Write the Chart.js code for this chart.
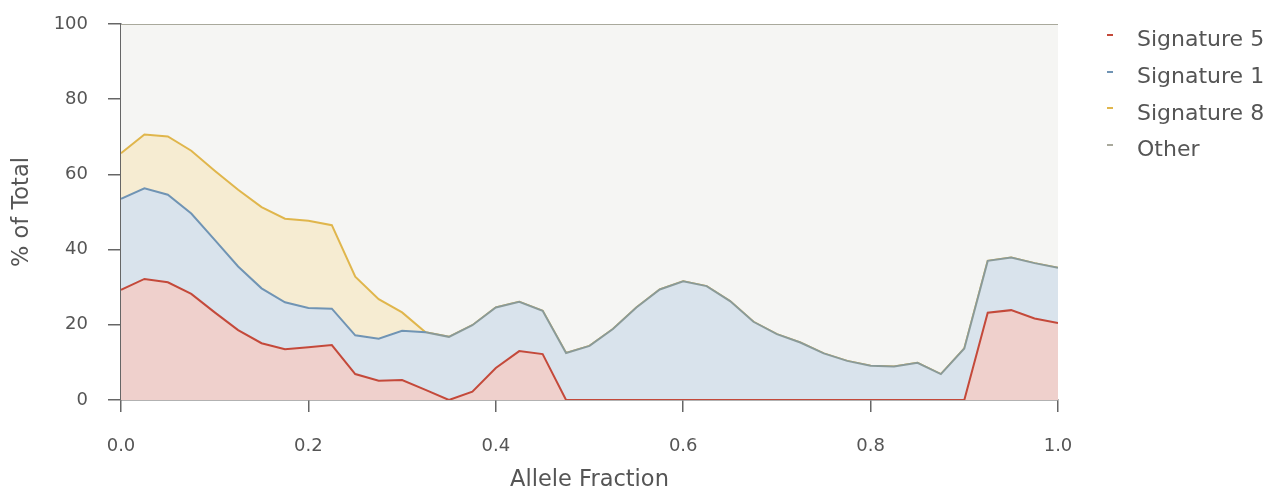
<!DOCTYPE html>
<html>
<head>
<meta charset="utf-8">
<script src="https://cdn.jsdelivr.net/npm/chart.js@4"></script>
<style>
  body { margin: 0; background: #fff; }
  #wrap { position: relative; width: 1270px; height: 491px; }
  .leg { position: absolute; left: 1137px; font: 22px "DejaVu Sans", sans-serif; color: #555; line-height: 26px; white-space: nowrap; }
  .mark { position: absolute; left: 1107px; width: 6px; height: 2px; }
</style>
</head>
<body>
<div id="wrap">
  <canvas id="areaChart" width="1270" height="491"></canvas>
  <div id="legend"></div>
</div>
<script>
const alleleFraction = [0, 0.025, 0.05, 0.075, 0.1, 0.125, 0.15, 0.175, 0.2, 0.225,
  0.25, 0.275, 0.3, 0.325, 0.35, 0.375, 0.4, 0.425, 0.45, 0.475,
  0.5, 0.525, 0.55, 0.575, 0.6, 0.625, 0.65, 0.675, 0.7, 0.725,
  0.75, 0.775, 0.8, 0.825, 0.85, 0.875, 0.9, 0.925, 0.95, 0.975, 1];

const sig5 = [29.3, 32.2, 31.3, 28.2, 23.3, 18.6, 15.1, 13.5, 14.0, 14.6,
  6.9, 5.1, 5.3, 2.7, 0, 2.2, 8.5, 13.0, 12.2, 0,
  0, 0, 0, 0, 0, 0, 0, 0, 0, 0,
  0, 0, 0, 0, 0, 0, 0, 23.2, 23.9, 21.7, 20.5];

const sig1 = [24.2, 24.1, 23.3, 21.4, 19.3, 16.9, 14.6, 12.5, 10.5, 9.7,
  10.3, 11.2, 13.1, 15.3, 16.8, 17.7, 16.1, 13.1, 11.5, 12.5,
  14.4, 18.9, 24.6, 29.4, 31.6, 30.3, 26.3, 20.8, 17.5, 15.3,
  12.4, 10.4, 9.1, 8.9, 9.9, 6.9, 13.7, 13.8, 14.0, 14.7, 14.7];

const sig8 = [12.1, 14.3, 15.5, 16.7, 18.4, 20.4, 21.6, 22.2, 23.2, 22.2,
  15.6, 10.5, 4.9, 0, 0, 0, 0, 0, 0, 0,
  0, 0, 0, 0, 0, 0, 0, 0, 0, 0,
  0, 0, 0, 0, 0, 0, 0, 0, 0, 0, 0];

const other = [34.4, 29.4, 29.9, 33.7, 39.0, 44.1, 48.7, 51.8, 52.3, 53.5,
  67.2, 73.2, 76.7, 82.0, 83.2, 80.1, 75.4, 73.9, 76.3, 87.5,
  85.6, 81.1, 75.4, 70.6, 68.4, 69.7, 73.7, 79.2, 82.5, 84.7,
  87.6, 89.6, 90.9, 91.1, 90.1, 93.1, 86.3, 63.0, 62.1, 63.6, 64.8];

const seriesNames = ["Signature 5", "Signature 1", "Signature 8", "Other"];
const lineColors = ["#c4493a", "#7094b4", "#e0b64c", "#a9a99c"];
const fillColors = ["#efd0cc", "#d9e3ec", "#f6ecd2", "#f5f5f3"];
const yTicks = [0, 20, 40, 60, 80, 100];

function points(vals) {
  return vals.map((v, i) => ({ x: alleleFraction[i], y: v }));
}

const seriesValues = [sig5, sig1, sig8, other];

const datasets = seriesValues.map((vals, k) => ({
  label: seriesNames[k],
  data: points(vals),
  borderColor: lineColors[k],
  backgroundColor: fillColors[k],
  borderWidth: 2,
  pointRadius: 0,
  tension: 0,
  fill: k === 0 ? "origin" : "-1"
}));

// once signature 8 drops to zero the blue edge is covered by the upper edges (greyish)
const sig8End = sig8.findIndex((v, i) => i > 0 && v === 0);
datasets[1].borderColor = function(context) {
  const chart = context.chart;
  const area = chart.chartArea;
  if (!area) return lineColors[1];
  const xs = chart.scales.x;
  const g = chart.ctx.createLinearGradient(area.left, 0, area.right, 0);
  const f = (xs.getPixelForValue(alleleFraction[sig8End]) - area.left) / (area.right - area.left);
  g.addColorStop(0, lineColors[1]);
  g.addColorStop(f, lineColors[1]);
  g.addColorStop(Math.min(1, f + 0.001), "#8a9a98");
  g.addColorStop(1, "#8a9a98");
  return g;
};

const tickFont = { family: "DejaVu Sans", size: 18 };

const ctx = document.getElementById("areaChart").getContext("2d");
const chart = new Chart(ctx, {
  type: "line",
  data: { datasets: datasets },
  options: {
    responsive: false,
    animation: false,
    layout: { padding: { top: 24, right: 212, left: 0, bottom: 0 } },
    plugins: {
      legend: { display: false },
      tooltip: { enabled: false }
    },
    scales: {
      x: {
        type: "linear",
        min: 0,
        max: 1,
        afterFit: s => { s.height = 91; },
        grid: { drawOnChartArea: false, drawTicks: true, tickLength: 12, color: "#666", lineWidth: 1.5 },
        border: { display: true, color: "#666", width: 1.5 },
        ticks: {
          stepSize: 0.2,
          padding: 24,
          color: "#555",
          font: tickFont,
          maxRotation: 0,
          callback: v => v.toFixed(1)
        },
        title: {
          display: true,
          text: "Allele Fraction",
          color: "#555",
          font: { family: "DejaVu Sans", size: 22.5, lineHeight: 1.0 },
          padding: { top: 0, bottom: 0 }
        }
      },
      y: {
        stacked: true,
        min: 0,
        max: 100,
        afterFit: s => { s.width = 121; s.paddingTop = 0; s.paddingBottom = 0; },
        afterBuildTicks: s => { s.ticks = yTicks.map(v => ({ value: v })); },
        grid: { drawOnChartArea: false, drawTicks: true, tickLength: 13, color: "#666", lineWidth: 1.5 },
        border: { display: true, color: "#666", width: 1.5 },
        ticks: { padding: 20, color: "#555", font: tickFont },
        title: {
          display: true,
          text: "% of Total",
          color: "#555",
          font: { family: "DejaVu Sans", size: 22.5, lineHeight: 1.2 },
          padding: { top: 8.5, bottom: 0 }
        }
      }
    }
  }
});

// legend on the right
const legendRows = [26.4, 63, 99.6, 136.2];
const legend = document.getElementById("legend");
seriesNames.forEach((name, k) => {
  const m = document.createElement("div");
  m.className = "mark";
  m.style.top = (legendRows[k] + 7.6) + "px";
  m.style.background = lineColors[k];
  legend.appendChild(m);
  const t = document.createElement("div");
  t.className = "leg";
  t.style.top = legendRows[k] + "px";
  t.textContent = name;
  legend.appendChild(t);
});
</script>
</body>
</html>
